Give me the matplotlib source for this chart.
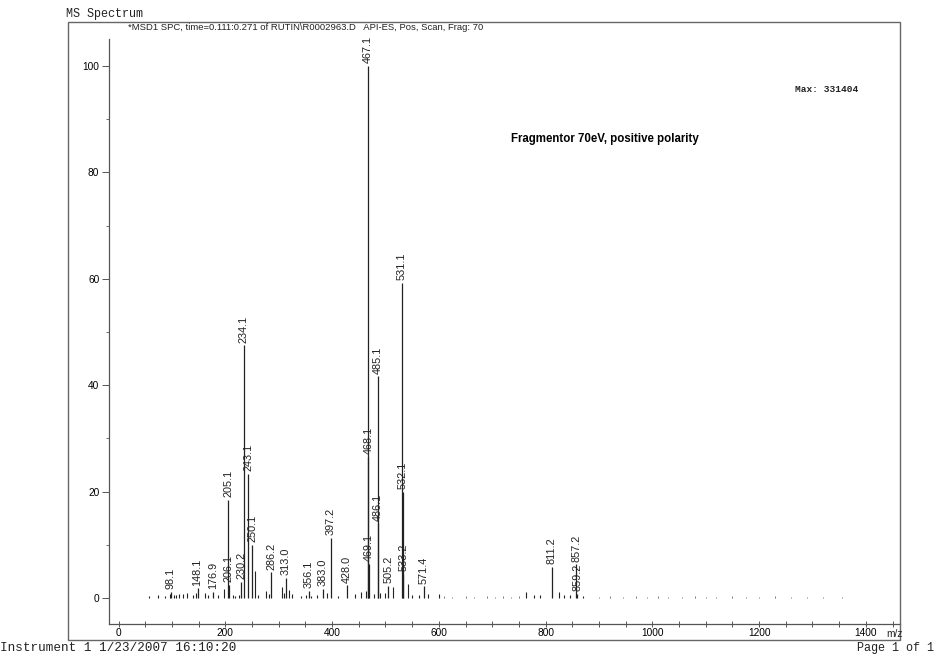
"""
MS spectrum of rutin (API-ES, positive, fragmentor 70 eV) redrawn from a scanned printout.
"""

import matplotlib
matplotlib.use('Agg')
import matplotlib.pyplot as plt
from matplotlib.patches import Rectangle
from matplotlib.ticker import MultipleLocator

# Labelled peaks (m/z, relative abundance %)
labeled_mz = [98.1, 148.1, 176.9, 205.1, 206.1, 230.2, 234.1, 243.1, 250.1,
              286.2, 313.0, 356.1, 383.0, 397.2, 428.0, 467.1, 468.1, 469.1,
              485.1, 486.1, 505.2, 531.1, 532.1, 533.2, 571.4, 811.2, 857.2, 859.2]
labeled_int = [1.2, 1.8, 1.2, 18.5, 2.5, 3.0, 47.5, 23.3, 10.0,
               4.8, 3.8, 1.3, 1.7, 11.3, 2.4, 100.0, 26.5, 6.4,
               41.7, 14.0, 2.3, 59.2, 20.0, 4.5, 2.2, 5.8, 6.3, 0.8]

# Unlabelled minor peaks
minor_mz = [57, 74, 87, 96, 104, 108, 113, 121, 128, 139, 145, 161, 167, 186,
            197, 214, 219, 226, 256, 262, 277, 282, 306, 310, 320, 325, 341,
            351, 361, 372, 391, 411, 443, 455, 464, 478, 490, 499, 514, 542,
            550, 563, 580, 600, 764, 778, 790, 825, 835, 845, 870]
minor_int = [0.4, 0.5, 0.4, 0.8, 0.6, 0.5, 0.7, 0.8, 0.9, 0.5, 1.0, 1.0, 0.6, 0.5,
             1.7, 0.6, 0.4, 0.5, 5.1, 0.6, 1.3, 0.8, 2.0, 1.0, 1.4, 0.7, 0.4,
             0.5, 0.4, 0.5, 0.9, 0.4, 0.8, 1.2, 1.3, 0.7, 0.9, 1.0, 2.0, 2.6,
             0.6, 0.5, 0.7, 0.8, 1.1, 0.5, 0.5, 1.2, 0.6, 0.5, 0.4]

# Baseline noise specks
noise_mz = [610, 625, 650, 665, 690, 705, 720, 735, 750, 900, 920, 945, 970,
            990, 1010, 1030, 1055, 1080, 1100, 1120, 1150, 1175, 1200, 1230,
            1260, 1290, 1320, 1355]
noise_int = [0.3, 0.2, 0.3, 0.2, 0.3, 0.2, 0.3, 0.2, 0.3, 0.2, 0.3, 0.2, 0.4,
             0.2, 0.3, 0.2, 0.2, 0.3, 0.2, 0.2, 0.3, 0.2, 0.2, 0.3, 0.2, 0.2,
             0.2, 0.2]

x_major = [0, 200, 400, 600, 800, 1000, 1200, 1400]
y_major = [0, 20, 40, 60, 80, 100]

W, H = 936, 654
sans = ['Liberation Sans', 'DejaVu Sans']
mono = ['Liberation Mono', 'DejaVu Sans Mono']
ink = '#222222'
axis_col = '#555555'


def fx(px):
    return px / W


def fy(py):
    return 1 - py / H


fig = plt.figure(figsize=(W / 100, H / 100), dpi=100)
ax = fig.add_axes([fx(109), fy(624), fx(900) - fx(109), fy(39) - fy(624)])

ax.vlines(noise_mz, 0, noise_int, color='#777777', lw=0.7)
ax.vlines(minor_mz, 0, minor_int, color=ink, lw=0.8)
ax.vlines(labeled_mz, 0, labeled_int, color=ink, lw=0.9)

for mz, h in zip(labeled_mz, labeled_int):
    ax.text(mz, h + 0.5, f"{mz:.1f}", rotation=90, ha='center', va='bottom',
            fontsize=7.8, family=sans, color=ink)

ax.set_xlim(-18, 1464)
ax.set_ylim(-4.9, 105.1)
ax.set_xticks(x_major)
ax.set_xticklabels([str(v) for v in x_major], family=sans, fontsize=7.3)
ax.xaxis.set_minor_locator(MultipleLocator(50))
ax.set_yticks(y_major)
ax.set_yticklabels([str(v) for v in y_major], family=sans, fontsize=7.3)
ax.yaxis.set_minor_locator(MultipleLocator(10))
ax.tick_params(axis='x', which='both', direction='inout', length=4, width=0.7,
               color=axis_col, pad=1)
ax.tick_params(axis='y', which='major', direction='out', length=5, width=0.7,
               color=axis_col, pad=2)
ax.tick_params(axis='y', which='minor', direction='out', length=2, width=0.6,
               color=axis_col)
for side in ['top', 'right']:
    ax.spines[side].set_visible(False)
for side in ['left', 'bottom']:
    ax.spines[side].set_color(axis_col)
    ax.spines[side].set_linewidth(0.9)
ax.patch.set_alpha(0)

# outer frame of the printout
fig.patches.append(Rectangle((fx(68), fy(640)), fx(900) - fx(68), fy(22) - fy(640),
                             transform=fig.transFigure, fill=False,
                             edgecolor='#666666', lw=1.0))

fig.text(fx(66), fy(14), "MS Spectrum", family=mono, fontsize=8.5,
         va='center', ha='left', color=ink)
fig.text(fx(128), fy(28), "*MSD1 SPC, time=0.111:0.271 of RUTIN\\R0002963.D   "
         "API-ES, Pos, Scan, Frag: 70", family=sans, fontsize=6.8,
         va='center', ha='left', color=ink)
fig.text(fx(795), fy(90), "Max: 331404", family=mono, fontsize=6.8,
         va='center', ha='left', color=ink, fontweight='bold')
fig.text(fx(511), fy(139), "Fragmentor 70eV, positive polarity", family=sans,
         fontsize=8.3, va='center', ha='left', color='black', fontweight='bold')
fig.text(fx(886), fy(634), "m/z", family=sans, fontsize=7.3,
         va='center', ha='left', color=ink)
fig.text(fx(0), fy(648), "Instrument 1 1/23/2007 16:10:20", family=mono,
         fontsize=9.1, va='center', ha='left', color=ink)
fig.text(fx(934), fy(648), "Page 1 of 1", family=mono, fontsize=8.5,
         va='center', ha='right', color=ink)

fig.savefig("out.png", dpi=100)
plt.close(fig)
